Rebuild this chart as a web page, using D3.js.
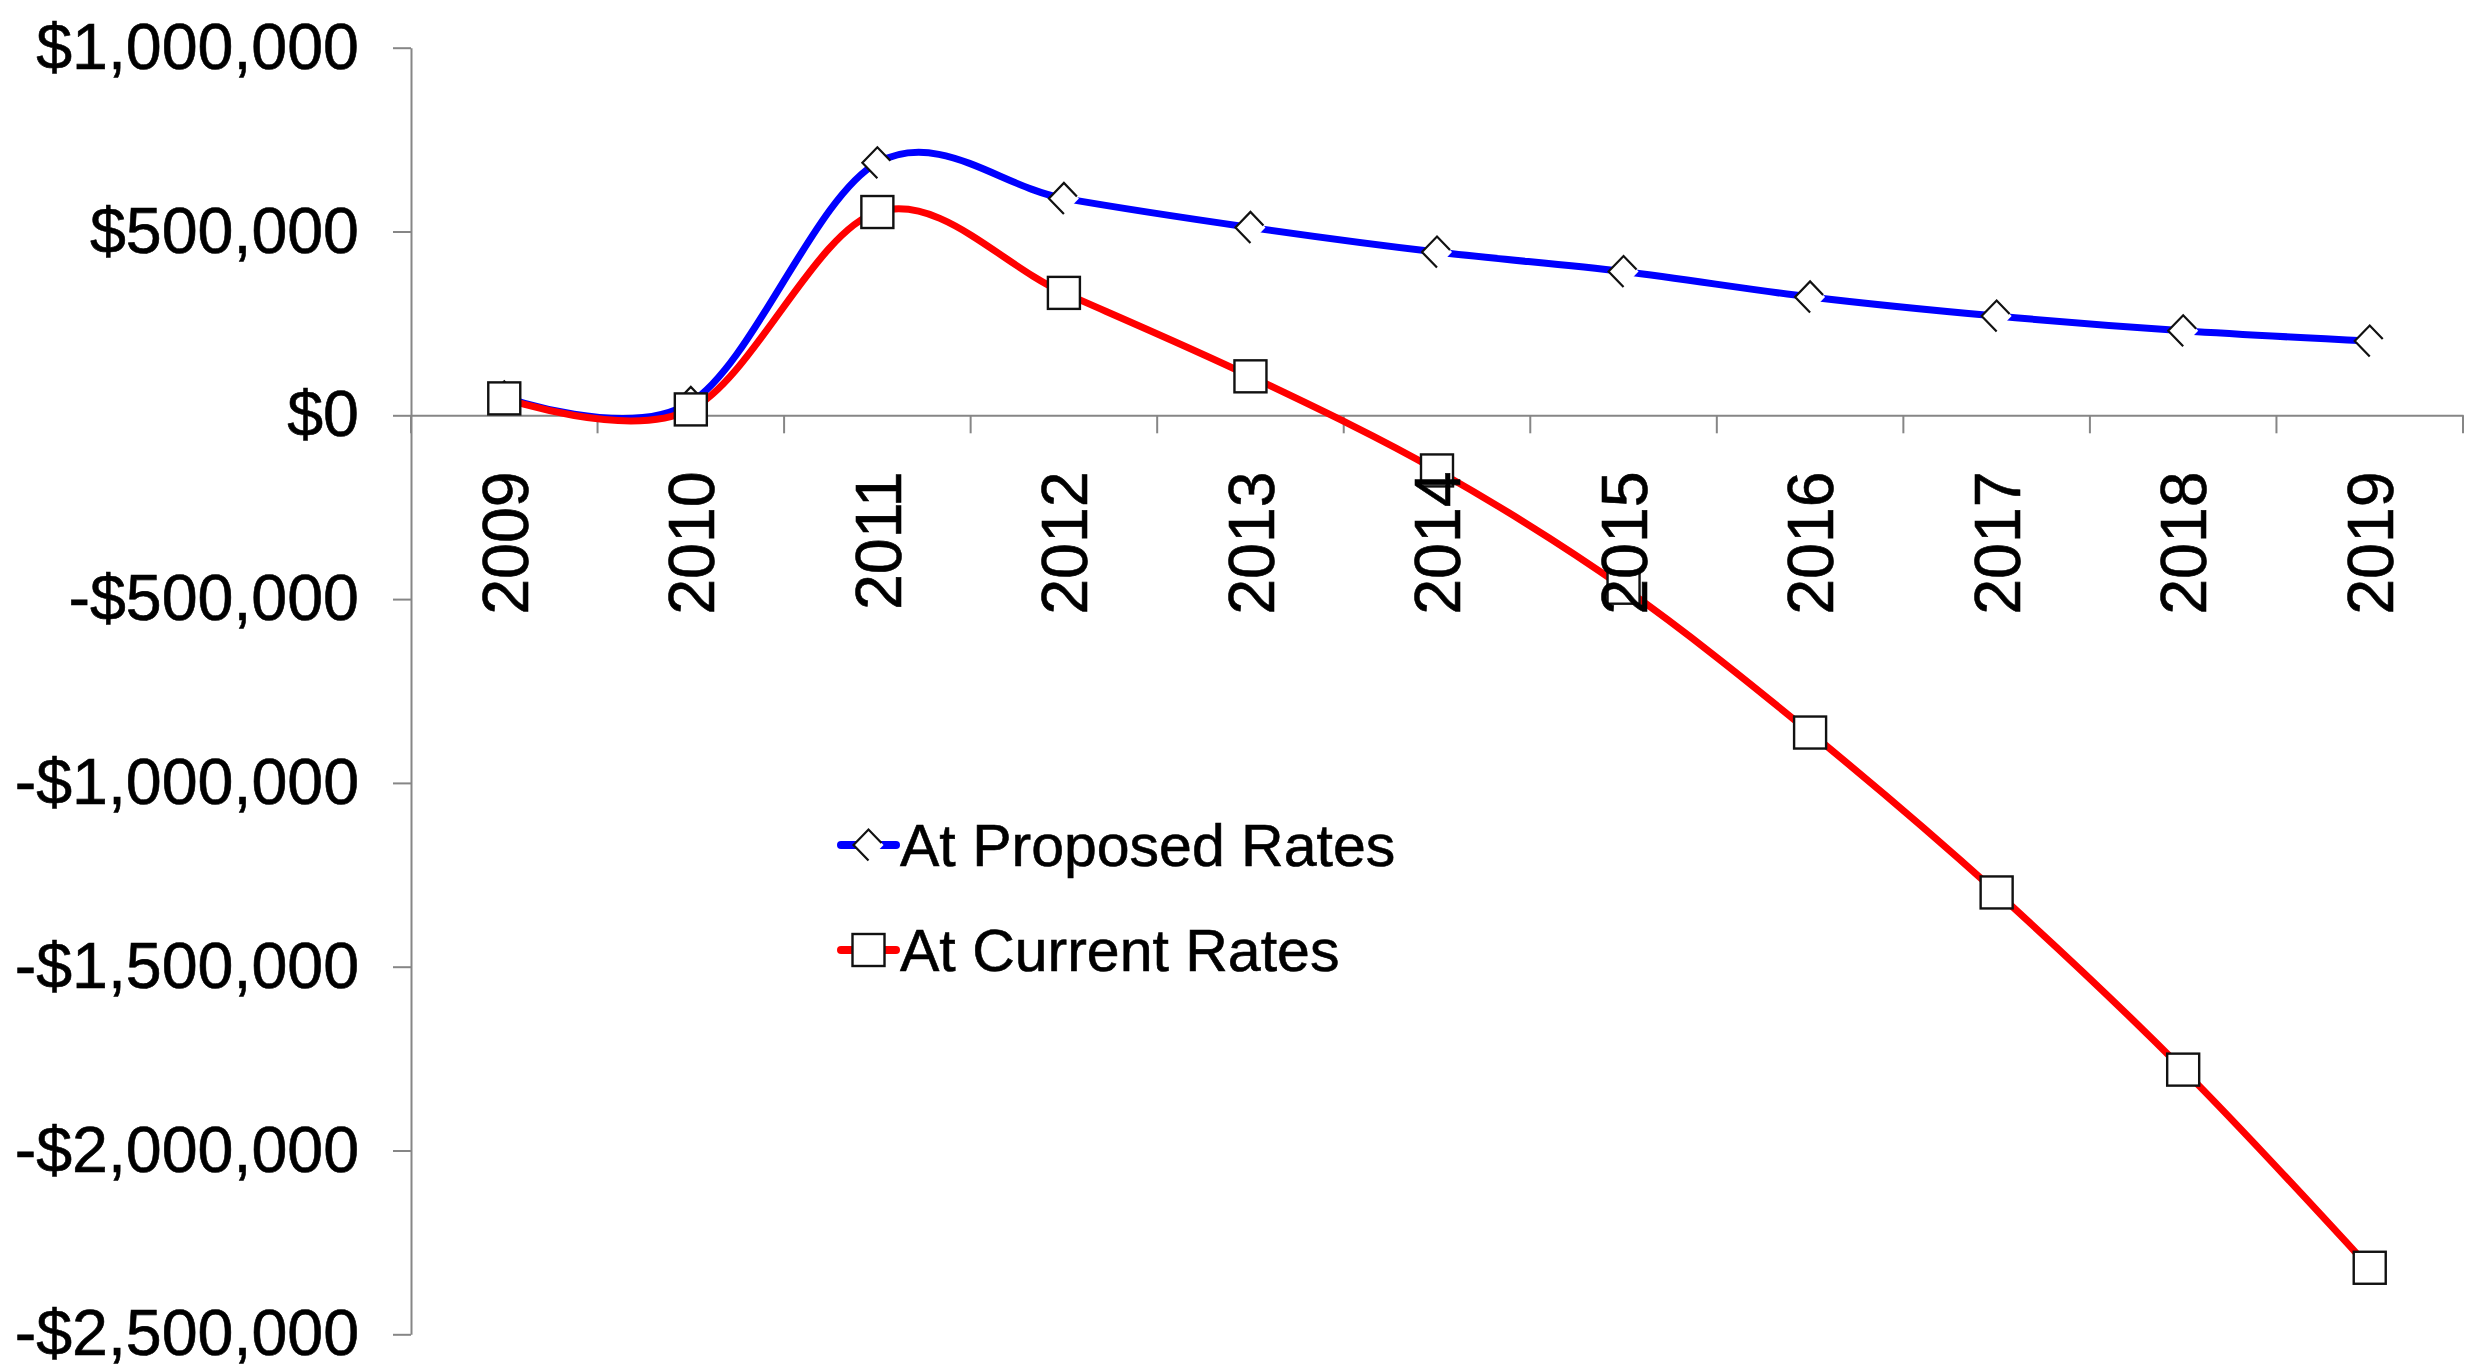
<!DOCTYPE html>
<html>
<head>
<meta charset="utf-8">
<script src="https://cdn.jsdelivr.net/npm/d3@7"></script>
<style>
  html, body { margin: 0; padding: 0; background: #ffffff; }
  svg { display: block; }
  text { font-family: "Liberation Sans", Arial, sans-serif; fill: #000; stroke: #000; stroke-width: 0.6px; }
</style>
</head>
<body>
<svg id="chart" width="2466" height="1372"></svg>
<script>
// Fiscal years on the category axis
const years = ["2009", "2010", "2011", "2012", "2013", "2014", "2015", "2016", "2017", "2018", "2019"];

// Projected balance under each rate scenario (dollars)
const proposedRates = [50000, 35000, 687000, 590000, 511000, 444000, 391000, 322000, 270000, 230000, 202000];
const currentRates = [46000, 16000, 553000, 333000, 106000, -150000, -469000, -863000, -1298000, -1780000, -2319000];

// Value axis ticks
const yTickValues = [1000000, 500000, 0, -500000, -1000000, -1500000, -2000000, -2500000];

const seriesNames = ["At Proposed Rates", "At Current Rates"];

const svg = d3.select("#chart");
svg.append("rect").attr("width", 2466).attr("height", 1372).attr("fill", "#fff");

const x = d3.scaleBand().domain(years).range([411, 2463]);
const y = d3.scaleLinear().domain([-2500000, 1000000]).range([1334.3, 47.7]);

const axisColor = "#868686";
const money = v => (v < 0 ? "-$" : "$") + d3.format(",")(Math.abs(v));

// Value axis on the left
const yAxis = svg.append("g")
  .attr("transform", "translate(411,0)")
  .call(d3.axisLeft(y).tickValues(yTickValues).tickSize(18).tickSizeOuter(0).tickPadding(34).tickFormat(money));
yAxis.select(".domain").attr("stroke", axisColor).attr("stroke-width", 2);
yAxis.selectAll(".tick line").attr("stroke", axisColor).attr("stroke-width", 2);
yAxis.selectAll(".tick text").attr("font-size", 64.5).attr("font-family", "Liberation Sans, Arial, sans-serif").attr("fill", "#000");

// Category axis along the zero line
const xAxis = svg.append("g")
  .attr("transform", `translate(0,${y(0)})`)
  .call(d3.axisBottom(x).tickSize(0).tickSizeOuter(0).tickFormat(""));
xAxis.select(".domain").attr("stroke", axisColor).attr("stroke-width", 2);

// Tick marks between categories
const boundaries = years.map(d => x(d)).concat([x.range()[1]]);
xAxis.selectAll("line.boundary")
  .data(boundaries)
  .join("line")
  .attr("class", "boundary")
  .attr("x1", d => d).attr("x2", d => d)
  .attr("y1", 0).attr("y2", 18)
  .attr("stroke", axisColor).attr("stroke-width", 2);

const cx = d => x(d) + x.bandwidth() / 2;
const line = d3.line()
  .x(d => cx(d.year))
  .y(d => y(d.value))
  .curve(d3.curveCardinal.tension(0));

const proposedData = years.map((yr, i) => ({ year: yr, value: proposedRates[i] }));
const currentData = years.map((yr, i) => ({ year: yr, value: currentRates[i] }));

// Diamond marker: white body with an open outline
function diamond(g, px, py) {
  const w = 15, h = 15.5;
  g.append("path")
    .attr("d", `M${px},${py - h}L${px + w},${py}L${px},${py + h}L${px - w},${py}Z`)
    .attr("fill", "#fff").attr("stroke", "none");
  g.append("path")
    .attr("d", `M${px},${py + h}L${px - w},${py}L${px},${py - h}L${px + w - 2},${py - 2}`)
    .attr("fill", "none").attr("stroke", "#111").attr("stroke-width", 2.2);
}
function square(g, px, py) {
  g.append("rect")
    .attr("x", px - 16).attr("y", py - 16)
    .attr("width", 32).attr("height", 32)
    .attr("fill", "#fff").attr("stroke", "#111").attr("stroke-width", 2.4);
}

// Proposed-rate series
svg.append("path")
  .datum(proposedData)
  .attr("d", line)
  .attr("fill", "none").attr("stroke", "#0000ff").attr("stroke-width", 7)
  .attr("stroke-linejoin", "round").attr("stroke-linecap", "round");
const pMarks = svg.append("g");
proposedData.forEach(d => diamond(pMarks, cx(d.year), y(d.value)));

// Current-rate series
svg.append("path")
  .datum(currentData)
  .attr("d", line)
  .attr("fill", "none").attr("stroke", "#ff0000").attr("stroke-width", 7)
  .attr("stroke-linejoin", "round").attr("stroke-linecap", "round");
const cMarks = svg.append("g");
currentData.forEach(d => square(cMarks, cx(d.year), y(d.value)));

// Year labels, rotated
svg.append("g")
  .selectAll("text")
  .data(years)
  .join("text")
  .attr("transform", d => `translate(${cx(d)},${y(0)}) rotate(-90)`)
  .attr("x", -56)
  .attr("dy", "0.36em")
  .attr("text-anchor", "end")
  .attr("font-size", 64.5)
  .text(d => d);

// Legend
const legend = svg.append("g");
const legendRows = [
  { name: seriesNames[0], color: "#0000ff", marker: diamond, cy: 845 },
  { name: seriesNames[1], color: "#ff0000", marker: square, cy: 950 }
];
legendRows.forEach(r => {
  legend.append("line")
    .attr("x1", 841).attr("x2", 896).attr("y1", r.cy).attr("y2", r.cy)
    .attr("stroke", r.color).attr("stroke-width", 8).attr("stroke-linecap", "round");
  r.marker(legend, 868.5, r.cy);
  legend.append("text")
    .attr("x", 900).attr("y", r.cy + 20.5)
    .attr("font-size", 59)
    .text(r.name);
});
</script>
</body>
</html>
